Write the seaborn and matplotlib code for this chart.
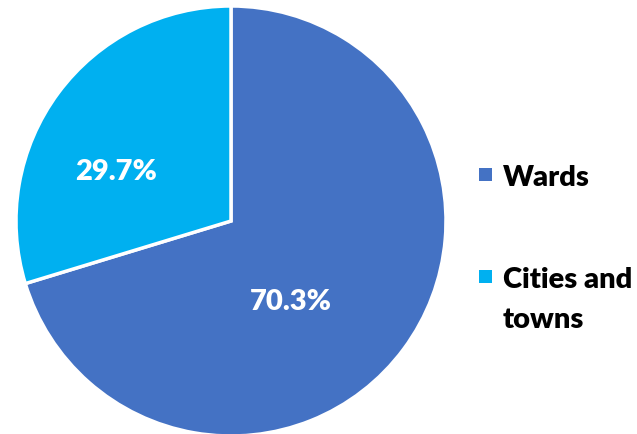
import matplotlib
matplotlib.use("Agg")
import matplotlib.pyplot as plt
from matplotlib.patches import Rectangle
import seaborn as sns

sns.set_theme(style="white")
plt.rcParams["font.family"] = ["Lato", "DejaVu Sans"]

categories = ["Wards", "Cities and\ntowns"]
shares = [70.3, 29.7]
colors = ["#4472C4", "#00B0F0"]

W, H = 637, 435
fig = plt.figure(figsize=(W / 100, H / 100), dpi=100)
cx, cy, r = 231, 222, 215
ax = fig.add_axes([(cx - r) / W, (H - cy - r) / H, 2 * r / W, 2 * r / H])

wedges, texts, autotexts = ax.pie(
    shares, colors=colors, startangle=90, counterclock=False,
    autopct="%.1f%%", pctdistance=0.55,
    wedgeprops=dict(edgecolor="white", linewidth=2.5),
    textprops=dict(color="white", fontsize=21, fontweight="heavy"),
)
# nudge the percentage labels to their spots inside the slices
autotexts[0].set_position((0.28, -0.37))
autotexts[1].set_position((-0.533, 0.234))
ax.set_xlim(-1.0, 1.0)
ax.set_ylim(-1.0, 1.0)
ax.set_aspect("equal")
ax.axis("off")

# legend: a colour square beside the first line of each bold label
square_tops = [169, 271]     # px from top
label_tops = [165, 267]      # top of the first text line, px from top
for color, label, sq, top in zip(colors, categories, square_tops, label_tops):
    fig.add_artist(Rectangle((479 / W, 1 - (sq + 13) / H), 13 / W, 13 / H,
                             transform=fig.transFigure, facecolor=color,
                             edgecolor="none"))
    fig.text(503 / W, 1 - top / H, label, ha="left", va="top",
             fontsize=21, fontweight="heavy", color="black",
             linespacing=1.65)

fig.savefig("out.png", dpi=100, facecolor="white")
